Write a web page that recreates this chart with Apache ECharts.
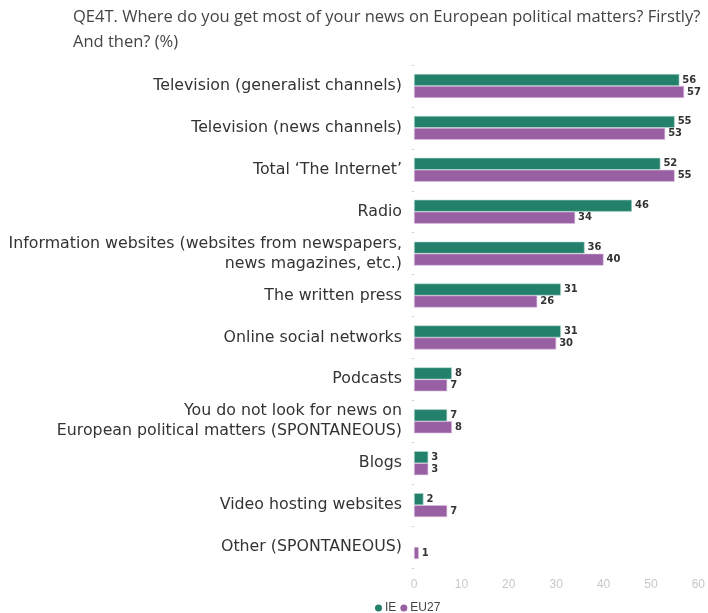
<!DOCTYPE html>
<html><head><meta charset="utf-8">
<script src="https://cdn.jsdelivr.net/npm/echarts@6/dist/echarts.min.js"></script>
<style>html,body{margin:0;padding:0;background:#fff}#c{width:708px;height:613px}</style>
</head><body><div id="c"></div>
<script>
const titleText = "QE4T. Where do you get most of your news on European political matters? Firstly?\nAnd then? (%)";
const categories = [
  "Television (generalist channels)",
  "Television (news channels)",
  "Total \u2018The Internet\u2019",
  "Radio",
  "Information websites (websites from newspapers,\nnews magazines, etc.)",
  "The written press",
  "Online social networks",
  "Podcasts",
  "You do not look for news on\nEuropean political matters (SPONTANEOUS)",
  "Blogs",
  "Video hosting websites",
  "Other (SPONTANEOUS)"
];
const seriesNames = ["IE", "EU27"];
const ieValues = [56, 55, 52, 46, 36, 31, 31, 8, 7, 3, 2, null];
const eu27Values = [57, 53, 55, 34, 40, 26, 30, 7, 8, 3, 7, 1];
const xTicks = [0, 10, 20, 30, 40, 50, 60];

const chart = echarts.init(document.getElementById('c'));
const labelCfg = {
  show: true, position: 'right', distance: 3,
  fontSize: 10, fontWeight: 'bold', color: '#333', fontFamily: 'DejaVu Sans'
};
chart.setOption({
  animation: false,
  title: {
    text: titleText, left: 68, top: 0,
    textStyle: {fontSize: 16.5, fontWeight: 'normal', color: '#444', lineHeight: 25, fontFamily: 'Open Sans'}
  },
  legend: {
    data: seriesNames, left: 370, top: 597, icon: 'circle', itemWidth: 7, itemHeight: 7, itemGap: 4,
    itemStyle: {borderWidth: 0},
    textStyle: {fontSize: 12, color: '#444', padding: [0, 0, 0, -2]}
  },
  grid: {left: 414, right: 8, top: 65, bottom: 45, containLabel: false},
  xAxis: {
    type: 'value', min: 0, max: 60, interval: 10,
    axisLine: {show: false}, axisTick: {show: false}, splitLine: {show: false},
    axisLabel: {color: '#c8c8c8', fontSize: 12, margin: 11}
  },
  yAxis: {
    type: 'category', data: categories, inverse: true,
    axisLine: {show: false},
    axisTick: {show: true, length: 2, lineStyle: {color: '#ccc'}},
    axisLabel: {color: '#333', fontSize: 15.8, fontFamily: 'DejaVu Sans', lineHeight: 20, margin: 12, align: 'right'}
  },
  series: [
    {name: 'IE', type: 'bar', data: ieValues, barWidth: 12, barGap: '0%',
     itemStyle: {color: '#23806b', borderColor: '#b9dcd3', borderWidth: 0.6},
     label: labelCfg},
    {name: 'EU27', type: 'bar', data: eu27Values, barWidth: 12,
     itemStyle: {color: '#9860a3', borderColor: '#dcc3e0', borderWidth: 0.6},
     label: labelCfg}
  ],
  color: ['#23806b', '#9860a3']
});
</script></body></html>
